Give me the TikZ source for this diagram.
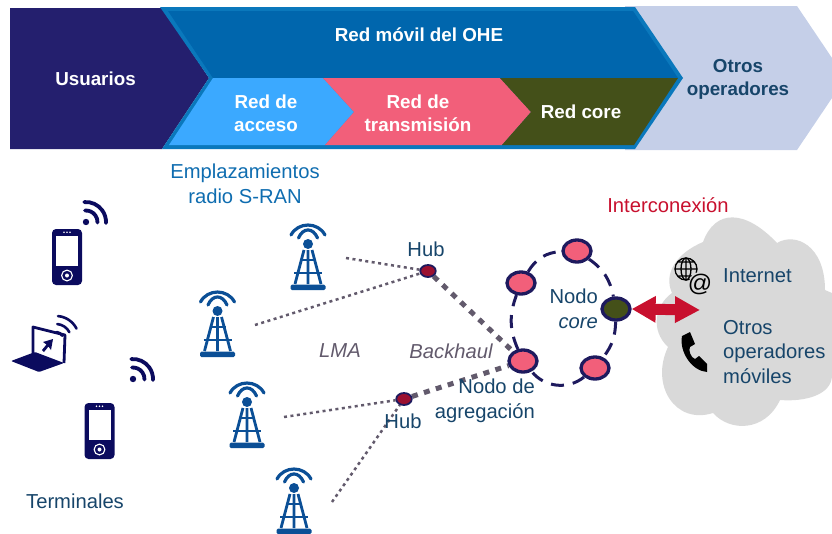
\documentclass[tikz,border=0pt]{standalone}
\usepackage{fontspec}
\setmainfont{Liberation Sans}
\usetikzlibrary{arrows.meta,shapes.geometric,backgrounds}

\definecolor{usernavy}{HTML}{241F6E}
\definecolor{netblue}{HTML}{0066AD}
\definecolor{netedge}{HTML}{0A78BC}
\definecolor{accesscyan}{HTML}{3BA9FF}
\definecolor{nodepink}{HTML}{F25F7A}
\definecolor{coreolive}{HTML}{445019}
\definecolor{otherlight}{HTML}{C5CFE8}
\definecolor{labelteal}{HTML}{17456A}
\definecolor{siteblue}{HTML}{0F6DB0}
\definecolor{towerblue}{HTML}{0B4F96}
\definecolor{iconnavy}{HTML}{0B0B5E}
\definecolor{ringnavy}{HTML}{1E1A5E}
\definecolor{hubred}{HTML}{9B1030}
\definecolor{linkgrey}{HTML}{625A6C}
\definecolor{interred}{HTML}{C8102E}
\definecolor{cloudgrey}{HTML}{D9D9D9}

\tikzset{
  headtext/.style={text=white, font=\fontsize{18.8}{23}\selectfont\bfseries, align=center},
  plaintext/.style={text=labelteal, font=\fontsize{20.2}{24.5}\selectfont, align=center},
  greytext/.style={text=linkgrey, font=\fontsize{20.2}{24.5}\selectfont\itshape},
  ringnode/.style={draw=ringnavy, ellipse, line width=3.3pt, fill=nodepink, minimum width=28pt, minimum height=22pt, inner sep=0pt},
  hubnode/.style={draw=ringnavy, ellipse, line width=1.8pt, fill=hubred, minimum width=15.5pt, minimum height=12pt, inner sep=0pt},
  ringlink/.style={draw=ringnavy, line width=3pt, dash pattern=on 13pt off 9pt},
  thinlink/.style={draw=linkgrey, line width=2.5pt, dash pattern=on 3pt off 3.5pt},
  thicklink/.style={draw=linkgrey, line width=5pt, dash pattern=on 6pt off 6.5pt},
  towericon/.pic={
    \draw[towerblue, line width=3.2pt, line cap=round] (-17,9) .. controls (-10,22.3) and (10,22.3) .. (17,9);
    \draw[towerblue, line width=3.2pt, line cap=round] (-9.5,6) .. controls (-5,16.7) and (5,16.7) .. (9.5,6);
    \fill[towerblue] (0,0) circle (5);
    \draw[towerblue, line width=2.8pt] (-4,-6) -- (-13,-40) (4,-6) -- (13,-40) (0,-6) -- (0,-40);
    \draw[towerblue, line width=2.8pt] (-8,-16) -- (8,-16) (-14,-29) -- (14,-29);
    \fill[towerblue, rounded corners=1.5pt] (-17.5,-40.5) rectangle (17.5,-46);
  },
  phoneicon/.pic={
    \fill[iconnavy, rounded corners=4pt] (-15,28) rectangle (15,-28);
    \fill[white] (-11,21.5) rectangle (11,-9);
    \foreach \dotx in {-3,0,3} \fill[white] (\dotx,24.8) circle (0.8);
    \draw[white, line width=1.1pt] (0,-18.5) circle (5.4);
    \fill[white] (0,-18.5) circle (2);
  },
  wifiicon/.pic={
    \fill[iconnavy] (0,0) circle (3.2);
    \draw[iconnavy, line width=3.8pt, line cap=round] (95:11.5) arc (95:-3:11.5);
    \draw[iconnavy, line width=3.8pt, line cap=round] (95:20) arc (95:-3:20);
  }
}

\begin{document}
\begin{tikzpicture}[x=1pt, y=1pt]
  \path[use as bounding box] (0,0) rectangle (832,-533);

  % top band
  \fill[otherlight] (625,-6) -- (797,-6) -- (832,-58) -- (832,-98) -- (797,-150) -- (625,-150) -- cycle;
  \fill[usernavy] (10,-8) -- (162,-8) -- (209,-78) -- (162,-149) -- (10,-149) -- cycle;
  \fill[netedge] (160,-7) -- (635,-7) -- (683,-78) -- (635,-149) -- (162,-149) -- (209,-78) -- cycle;
  \fill[netblue] (168,-11) -- (633,-11) -- (678,-78) -- (213,-78) -- cycle;
  \fill[accesscyan] (213,-78) -- (323,-78) -- (354,-112) -- (325,-145) -- (169,-145) -- cycle;
  \fill[nodepink] (323,-78) -- (500,-78) -- (531,-112) -- (502,-145) -- (325,-145) -- (354,-112) -- cycle;
  \fill[coreolive] (500,-78) -- (678,-78) -- (634,-145) -- (502,-145) -- (531,-112) -- cycle;

  \node[headtext] (usuarios) at (95.5,-79) {Usuarios};
  \node[headtext] (redmovil) at (419,-35) {Red móvil del OHE};
  \node[headtext] (redacceso) at (266,-113) {Red de\\acceso};
  \node[headtext] (redtrans) at (418,-113) {Red de\\transmisión};
  \node[headtext] (redcore) at (581,-112) {Red core};
  \node[headtext, text=labelteal] (otrosop) at (738,-79.5) {Otros\\operadores};

  % cloud
  \fill[cloudgrey] (672,-293) .. controls (663,-273) and (677,-253) .. (703,-242)
    .. controls (715,-209) and (745,-209) .. (777,-243)
    .. controls (795,-232) and (825,-245) .. (825,-290)
    -- (832,-293) -- (832,-375)
    .. controls (832,-395) and (805,-402) .. (780,-400)
    .. controls (765,-432) and (730,-432) .. (713,-413)
    .. controls (675,-425) and (650,-385) .. (668,-347)
    .. controls (650,-330) and (655,-305) .. (672,-293) -- cycle;

  % terminals
  \pic at (67,-257) {phoneicon};
  \pic at (99.5,-431) {phoneicon};
  \pic at (86,-222) {wifiicon};
  \pic at (133,-379) {wifiicon};
  \fill[iconnavy, rounded corners=1pt] (11,-361) -- (35,-352) -- (64,-363) -- (39,-372) -- cycle;
  \draw[iconnavy, line width=2.8pt, line join=round] (33,-353) -- (33,-327) -- (65,-335) -- (64,-363);
  \fill[iconnavy] (53,-339) -- (51,-350) -- (48.5,-346.5) -- (44,-352) -- (42,-350) -- (46.5,-344.5) -- (43,-342) -- cycle;
  \foreach \r in {7,15,23}
    \draw[iconnavy, line width=2.6pt, line cap=round] (56,-339) ++(85:\r) arc (85:27:\r);

  % sites
  \foreach \x/\y in {308/-244,217.5/-311,247/-402,294/-488}
    \pic at (\x,\y) {towericon};

  \coordinate (siteA) at (346,-258);
  \coordinate (siteB) at (255,-325);
  \coordinate (siteC) at (284,-417);
  \coordinate (siteD) at (332,-502);

  \node[hubnode] (hubtop) at (428,-271) {};
  \node[hubnode] (hubbot) at (404,-399) {};
  \node[ringnode] (ringA) at (521,-283) {};
  \node[ringnode] (ringB) at (577,-251) {};
  \node[ringnode, fill=coreolive] (ringcore) at (616,-309) {};
  \node[ringnode] (ringD) at (595,-368) {};
  \node[ringnode] (ringE) at (523,-361) {};

  \begin{scope}[on background layer]
    \foreach \from/\to/\bend in {ringA/ringB/28,ringB/ringcore/22,ringcore/ringD/18,ringD/ringE/45,ringE/ringA/22}
      \draw[ringlink] (\from) to[bend left=\bend] (\to);
    \draw[thinlink] (siteA) -- (hubtop);
    \draw[thinlink] (siteB) -- (hubtop);
    \draw[thinlink] (siteC) -- (hubbot);
    \draw[thinlink] (siteD) -- (hubbot);
    \draw[thicklink] (hubtop) -- (ringE);
    \draw[thicklink] (hubbot) -- (ringE);
  \end{scope}

  \coordinate (cloudend) at (700,-310);
  \draw[interred, line width=11pt, {Triangle[length=24pt,width=25pt]}-{Triangle[length=25pt,width=25pt]}] (ringcore.east) -- (cloudend);

  % icons in the cloud
  \draw[black, line width=1.3pt] (686,-269) circle (11) (686,-258) -- (686,-280) (675,-269) -- (697,-269)
    (677,-262) -- (695,-262) (677,-276) -- (695,-276);
  \draw[black, line width=1.3pt] (686,-269) ellipse (5 and 11);
  \node[circle, fill=cloudgrey, inner sep=0pt, minimum size=22pt] (atback) at (700,-283) {};
  \node[text=black, font=\fontsize{24}{28}\selectfont, inner sep=0pt] (atsign) at (700,-284) {@};
  \fill[black] (682,-336) .. controls (679,-352) and (692,-371) .. (707,-372)
    -- (707,-364) -- (699,-356) -- (695,-359) .. controls (691,-358) and (688,-350) .. (690,-347)
    -- (695,-344) -- (690,-332) -- cycle;

  % labels
  \node[plaintext, text=siteblue] (sitelabel) at (245,-184) {Emplazamientos\\radio S-RAN};
  \node[plaintext] (termlabel) at (75,-501) {Terminales};
  \node[plaintext] (hubtext) at (426,-249) {Hub};
  \node[plaintext] (hubtextb) at (403,-421) {Hub};
  \node[greytext] (lmalabel) at (340,-351) {LMA};
  \node[greytext] (backlabel) at (451,-351) {Backhaul};
  \node[plaintext, align=right, anchor=east, inner sep=0pt] (agglabel) at (535,-401) {Nodo de\\agregación};
  \node[plaintext, align=right, anchor=east, inner sep=0pt] (corelabel) at (598,-309) {Nodo\\\textit{core}};
  \node[plaintext, text=interred] (interlabel) at (668,-205) {Interconexión};
  \node[plaintext, anchor=west, inner sep=0pt] (netlabel) at (723,-276) {Internet};
  \node[plaintext, anchor=west, inner sep=0pt, align=left] (moblabel) at (723,-352) {Otros\\operadores\\móviles};
\end{tikzpicture}
\end{document}
